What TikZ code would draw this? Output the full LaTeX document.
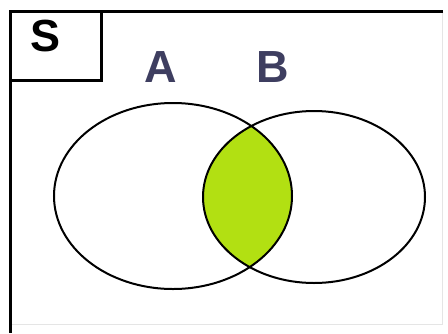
\documentclass[tikz,border=0pt]{standalone}
\usepackage{fontspec}
\setmainfont{Liberation Sans}
\definecolor{lensgreen}{RGB}{178,224,18}
\definecolor{labelblue}{RGB}{62,62,96}
\tikzset{
  setlabel/.style={font=\fontsize{45}{45}\selectfont\bfseries, inner sep=0pt, anchor=base},
  frameline/.style={line width=3pt, black},
  setline/.style={line width=2pt, black}
}
\begin{document}
\begin{tikzpicture}[x=1pt,y=-1pt]
\useasboundingbox (0,0) rectangle (448,333);
% faint remaining edges of the universe
\draw[black!10, line width=1pt] (442,11) -- (442,324) -- (10,324);
% intersection
\begin{scope}
  \clip (173,196) ellipse [x radius=119pt, y radius=93pt];
  \fill[lensgreen] (314,197) ellipse [x radius=111pt, y radius=86pt];
\end{scope}
% sets
\draw[setline] (173,196) ellipse [x radius=119pt, y radius=93pt];
\draw[setline] (314,197) ellipse [x radius=111pt, y radius=86pt];
% frame
\draw[frameline] (443,11) -- (10,11) -- (10,333);
\draw[frameline] (10,11) rectangle (101,80);
% labels
\node[setlabel, text=black] (S) at (45.5,51.5) {S};
\node[setlabel, text=labelblue] (A) at (161,82) {A};
\node[setlabel, text=labelblue] (B) at (272.5,82) {B};
\end{tikzpicture}
\end{document}
